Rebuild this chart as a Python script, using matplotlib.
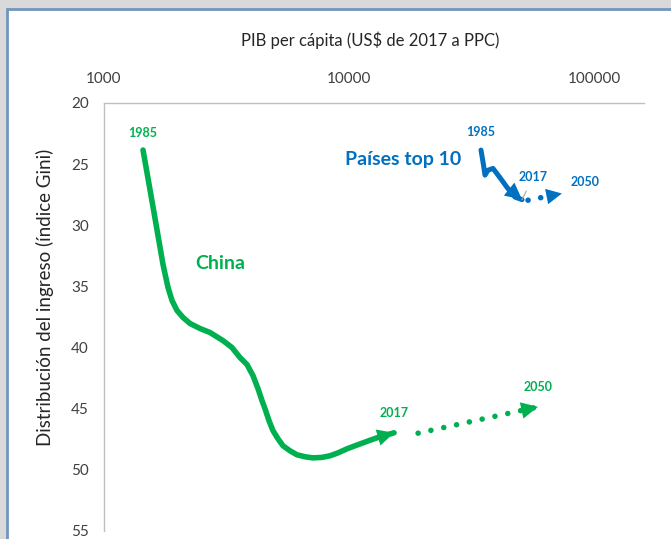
import matplotlib
matplotlib.use("Agg")
import matplotlib.pyplot as plt
from matplotlib.patches import Rectangle
from matplotlib.ticker import FixedLocator, NullLocator, FuncFormatter

plt.rcParams['font.family'] = ['Lato', 'DejaVu Sans']

# China path, GDP per capita (US$ 2017 PPP) vs Gini, 1985 -> 2017
china_gdp = [1443, 1497, 1555, 1615, 1677, 1741, 1825, 1895, 1986, 2102,
             2244, 2465, 2708, 3060, 3330, 3591, 3835, 4057, 4252, 4415,
             4541, 4715, 4896, 5131, 5378, 5742, 6134, 6612, 7132, 7759,
             8365, 9018, 9813, 10580, 11410, 12180, 13010, 15270]
china_gini = [23.85, 25.66, 27.54, 29.43, 31.31, 33.2, 35.08, 36.15, 36.97, 37.54,
              38.03, 38.44, 38.77, 39.43, 40.0, 40.82, 41.39, 42.3, 43.36, 44.34,
              45.0, 45.98, 46.8, 47.46, 48.03, 48.44, 48.77, 48.93, 49.02, 48.98,
              48.85, 48.61, 48.28, 48.03, 47.79, 47.58, 47.38, 46.97]
# projection 2017 -> 2050
china_proj_gdp = [19140, 59020]
china_proj_gini = [47.0, 44.85]

# top 10 countries path
top_gdp = [34570, 35250, 35900, 36900, 38700, 41310, 44150, 47620, 50850]
top_gini = [23.85, 24.85, 25.9, 25.5, 25.35, 26.1, 26.9, 27.7, 27.9]
top_proj_gdp = [53800, 73950]
top_proj_gini = [27.95, 27.4]

x_ticks = [1000, 10000, 100000]
y_ticks = [20, 25, 30, 35, 40, 45, 50, 55]

green = '#00b050'
blue = '#0070c0'

W, H = 671, 539
fig = plt.figure(figsize=(W / 100, H / 100), dpi=100, facecolor='#d9d9d9')
fig.patches.append(Rectangle((7 / W, -0.1), 1.2, 1 - 9 / H + 0.1,
                             transform=fig.transFigure, facecolor='white',
                             edgecolor='#7196bd', lw=2, zorder=-10))

ax = fig.add_axes([104 / W, 1 - 531 / H, 540 / W, 428 / H])
ax.set_facecolor('none')
ax.set_xscale('log')
ax.set_xlim(1000, 10 ** 5.204)
ax.set_ylim(55, 20)

ax.xaxis.tick_top()
ax.xaxis.set_major_locator(FixedLocator(x_ticks))
ax.xaxis.set_minor_locator(NullLocator())
ax.xaxis.set_major_formatter(FuncFormatter(lambda v, p: f"{int(v)}"))
ax.set_yticks(y_ticks)
ax.tick_params(axis='x', length=0, pad=12, labelsize=11, labelcolor='#404040')
ax.tick_params(axis='y', length=0, pad=11, labelsize=11, labelcolor='#404040')
for s in ['right', 'bottom']:
    ax.spines[s].set_visible(False)
for s in ['top', 'left']:
    ax.spines[s].set_color('#c0c0c0')
    ax.spines[s].set_linewidth(1)

fig.text(370 / W, 1 - 40 / H, 'PIB per cápita (US$ de 2017 a PPC)',
         ha='center', va='center', fontsize=12, color='#262626')
fig.text(45 / W, 1 - 297 / H, 'Distribución del ingreso (índice Gini)',
         ha='center', va='center', rotation=90, fontsize=13.5, color='#262626')

head = '-|>,head_length=0.8,head_width=0.4'

# China
ax.plot(china_gdp, china_gini, color=green, lw=4, solid_capstyle='round',
        solid_joinstyle='round')
ax.annotate('', xy=(china_gdp[-1], china_gini[-1]),
            xytext=(china_gdp[-2], china_gini[-2]),
            arrowprops=dict(arrowstyle=head, mutation_scale=15, color=green,
                            lw=0, shrinkA=0, shrinkB=0))
ax.plot(china_proj_gdp, china_proj_gini, color=green, lw=4,
        ls=(0, (0.01, 2.35)), dash_capstyle='round')
ax.annotate('', xy=(china_proj_gdp[-1], china_proj_gini[-1]),
            xytext=(china_proj_gdp[0], china_proj_gini[0]),
            arrowprops=dict(arrowstyle=head, mutation_scale=15, color=green,
                            lw=0, shrinkA=0, shrinkB=0))

# top 10
ax.plot(top_gdp, top_gini, color=blue, lw=3.6, solid_capstyle='round',
        solid_joinstyle='round')
ax.annotate('', xy=(top_gdp[-1], top_gini[-1]),
            xytext=(top_gdp[-3], top_gini[-3]),
            arrowprops=dict(arrowstyle=head, mutation_scale=15, color=blue,
                            lw=0, shrinkA=0, shrinkB=0))
ax.plot(top_proj_gdp, top_proj_gini, color=blue, lw=4,
        ls=(0, (0.01, 2.3)), dash_capstyle='round')
ax.annotate('', xy=(top_proj_gdp[-1], top_proj_gini[-1]),
            xytext=(top_proj_gdp[0], top_proj_gini[0]),
            arrowprops=dict(arrowstyle=head, mutation_scale=14, color=blue,
                            lw=0, shrinkA=0, shrinkB=0))

lab = dict(textcoords='offset points', ha='center', va='center',
           fontsize=9, fontweight='bold')
ax.annotate('1985', (china_gdp[0], china_gini[0]), xytext=(0, 12), color=green, **lab)
ax.annotate('2017', (china_gdp[-1], china_gini[-1]), xytext=(0, 14), color=green, **lab)
ax.annotate('2050', (china_proj_gdp[-1], china_proj_gini[-1]), xytext=(0, 14),
            color=green, **lab)
ax.annotate('1985', (top_gdp[0], top_gini[0]), xytext=(0, 13), color=blue, **lab)
ax.annotate('2017', (top_gdp[-1], top_gini[-1]), xytext=(8, 16), color=blue,
            arrowprops=dict(arrowstyle='-', color='#a6a6a6', lw=0.8,
                            shrinkA=4, shrinkB=0), **lab)
ax.annotate('2050', (top_proj_gdp[-1], top_proj_gini[-1]), xytext=(17, 8),
            color=blue, **lab)

ax.text(0.215, 0.626, 'China', transform=ax.transAxes, ha='center', va='center',
        fontsize=14, fontweight='bold', color=green)
ax.text(0.554, 0.867, 'Países top 10', transform=ax.transAxes, ha='center',
        va='center', fontsize=14, fontweight='bold', color=blue)

fig.savefig('out.png', dpi=100, facecolor=fig.get_facecolor())
